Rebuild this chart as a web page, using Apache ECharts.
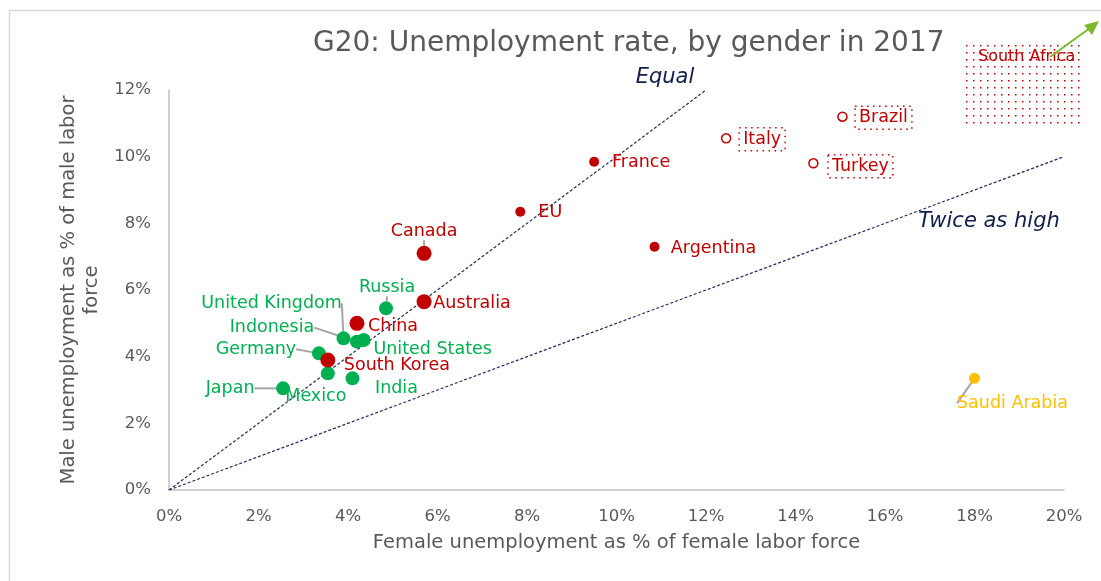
<!DOCTYPE html>
<html>
<head>
<meta charset="utf-8">
<script src="https://cdn.jsdelivr.net/npm/echarts@6/dist/echarts.min.js"></script>
<style>
  html, body { margin: 0; padding: 0; background: #fff; }
  #main { width: 1101px; height: 581px; }
</style>
</head>
<body>
<div id="main"></div>
<script>
// values in % of labor force
var redNames = ['France', 'EU', 'Argentina', 'Canada', 'Australia', 'China', 'South Korea'];
var redFemale = [9.5, 7.85, 10.85, 5.7, 5.7, 4.2, 3.55];
var redMale = [9.85, 8.35, 7.3, 7.1, 5.65, 5.0, 3.9];

var hollowNames = ['Italy', 'Brazil', 'Turkey'];
var hollowFemale = [12.45, 15.05, 14.4];
var hollowMale = [10.55, 11.2, 9.8];

var greenNames = ['Russia', 'United Kingdom', 'Indonesia', 'United States', 'Germany', 'Mexico', 'India', 'Japan'];
var greenFemale = [4.85, 3.9, 4.2, 4.35, 3.35, 3.55, 4.1, 2.55];
var greenMale = [5.45, 4.55, 4.45, 4.5, 4.1, 3.5, 3.35, 3.05];

var goldNames = ['Saudi Arabia'];
var goldFemale = [18.0];
var goldMale = [3.35];

var equalLine = [[0, 0], [12, 12]];
var twiceLine = [[0, 0], [20, 10]];
var xTicks = [0, 20, 2];
var yTicks = [0, 12, 2];

var RED = '#C00000', GREEN = '#00B050', GOLD = '#FFC000', NAVY = '#1F2D5C', GREY = '#595959';
var FONT = 'DejaVu Sans';

// label centre offsets from the marker (px)
var labelOffsets = {
  'France': [47, 1], 'EU': [30, 1], 'Argentina': [59, 2], 'Canada': [0, -22],
  'Australia': [48, 2], 'China': [36, 3], 'South Korea': [69, 5],
  'Russia': [1, -21], 'United Kingdom': [-72, -35], 'Indonesia': [-85, -14],
  'United States': [69, 9], 'Germany': [-63, -4], 'Mexico': [-12, 23],
  'India': [44, 10], 'Japan': [-53, 0], 'Saudi Arabia': [38, 25],
  'Italy': [36, 1], 'Brazil': [41, 1], 'Turkey': [47, 3]
};
var withLeader = ['Canada', 'Russia', 'United Kingdom', 'Indonesia', 'Germany', 'Japan', 'Saudi Arabia'];
var bigRed = ['Canada', 'Australia', 'China', 'South Korea'];

function points(names, xs, ys, sizeFn) {
  return names.map(function (n, i) {
    return {
      name: n,
      value: [xs[i], ys[i]],
      symbolSize: sizeFn ? sizeFn(n) : undefined,
      labelLine: { show: withLeader.indexOf(n) >= 0 }
    };
  });
}

function layout(params) {
  var o = labelOffsets[params.text] || [0, 0];
  return { dx: o[0], dy: o[1] };
}

function scatter(name, data, color, size, extra) {
  var s = {
    name: name,
    type: 'scatter',
    data: data,
    symbolSize: size,
    itemStyle: { color: color, opacity: 1 },
    label: {
      show: true, position: 'inside', formatter: '{b}',
      color: color, fontFamily: FONT, fontSize: 17.5
    },
    labelLine: { show: false, lineStyle: { color: '#A6A6A6', width: 2 }, length2: 0 },
    labelLayout: layout,
    emphasis: { disabled: true },
    z: 5
  };
  return Object.assign(s, extra || {});
}

// dotted pattern for South Africa box
var dotCanvas = document.createElement('canvas');
dotCanvas.width = 7; dotCanvas.height = 7;
var dctx = dotCanvas.getContext('2d');
dctx.fillStyle = RED;
dctx.fillRect(3, 3, 1.5, 1.5);

var chart = echarts.init(document.getElementById('main'));

var option = {
  animation: false,
  title: {
    text: 'G20: Unemployment rate, by gender in 2017',
    left: 308, top: 25,
    textStyle: { color: GREY, fontFamily: FONT, fontSize: 28, fontWeight: 'normal' }
  },
  grid: { left: 169, right: 37, top: 90, bottom: 91 },
  xAxis: {
    type: 'value', min: xTicks[0], max: xTicks[1], interval: xTicks[2],
    name: 'Female unemployment as % of female labor force',
    nameLocation: 'middle', nameGap: 43,
    nameTextStyle: { color: GREY, fontFamily: FONT, fontSize: 19.5 },
    axisLine: { show: true, lineStyle: { color: '#BFBFBF', width: 1.5 } },
    axisTick: { show: false },
    splitLine: { show: false },
    axisLabel: { formatter: '{value}%', color: GREY, fontFamily: FONT, fontSize: 16.5, margin: 18 }
  },
  yAxis: {
    type: 'value', min: yTicks[0], max: yTicks[1], interval: yTicks[2],
    name: 'Male unemployment as % of male labor\nforce',
    nameLocation: 'middle', nameGap: 62,
    nameTextStyle: { color: GREY, fontFamily: FONT, fontSize: 19.5, lineHeight: 23 },
    axisLine: { show: true, lineStyle: { color: '#BFBFBF', width: 1.5 } },
    axisTick: { show: false },
    splitLine: { show: false },
    axisLabel: { formatter: '{value}%', color: GREY, fontFamily: FONT, fontSize: 16.5, margin: 18 }
  },
  series: [
    {
      type: 'line', data: equalLine, showSymbol: false, silent: true,
      lineStyle: { color: NAVY, width: 1.2, type: [3, 2] },
      endLabel: {
        show: true, formatter: 'Equal', distance: 0, align: 'center', offset: [-41, -12],
        color: '#0F1E4A', fontFamily: FONT, fontStyle: 'italic', fontSize: 21
      },
      z: 2
    },
    {
      type: 'line', data: twiceLine, showSymbol: false, silent: true,
      lineStyle: { color: NAVY, width: 1.2, type: [3, 2] },
      endLabel: {
        show: true, formatter: 'Twice as high', distance: 0, align: 'center', offset: [-75, 65],
        color: '#0F1E4A', fontFamily: FONT, fontStyle: 'italic', fontSize: 21
      },
      z: 2
    },
    scatter('green', points(greenNames, greenFemale, greenMale), GREEN, 14),
    scatter('gold', points(goldNames, goldFemale, goldMale), GOLD, 11),
    scatter('red', points(redNames, redFemale, redMale, function (n) {
      return bigRed.indexOf(n) >= 0 ? 15 : 10;
    }), RED, 10),
    scatter('hollow', points(hollowNames, hollowFemale, hollowMale), RED, 9, {
      itemStyle: { color: '#fff', borderColor: RED, borderWidth: 1.5, opacity: 1 },
      label: {
        show: true, position: 'inside', formatter: '{b}',
        color: RED, fontFamily: FONT, fontSize: 17.5,
        borderColor: RED, borderWidth: 1.5, borderType: [1.5, 4.5],
        padding: [3, 4, 2, 4]
      }
    })
  ],
  graphic: [
    {
      type: 'rect', left: 7, top: 8, silent: true,
      shape: { width: 1200, height: 700 },
      style: { fill: 'none', stroke: '#D9D9D9', lineWidth: 1.5 }
    },
    {
      type: 'rect', left: 963, top: 42, silent: true,
      shape: { width: 122, height: 85 },
      style: { fill: { image: dotCanvas, repeat: 'repeat' } }
    },
    {
      type: 'text', left: 978, top: 49, silent: true,
      style: { text: 'South Africa', fill: RED, font: '16px "DejaVu Sans"' }
    },
    {
      type: 'line', silent: true,
      shape: { x1: 1050, y1: 57, x2: 1090, y2: 28 },
      style: { stroke: '#7DB82E', lineWidth: 2 }
    },
    {
      type: 'polygon', silent: true,
      shape: { points: [[1099, 21], [1084, 25], [1092, 35]] },
      style: { fill: '#7DB82E' }
    }
  ]
};

chart.setOption(option);
</script>
</body>
</html>
